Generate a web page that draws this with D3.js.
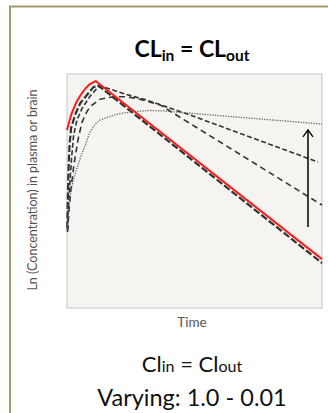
<!DOCTYPE html>
<html>
<head>
<meta charset="utf-8">
<script src="https://cdn.jsdelivr.net/npm/d3@7"></script>
<style>
  body { margin: 0; background: #fff; }
  svg { display: block; font-family: Lato, "Open Sans", sans-serif; }
</style>
</head>
<body>
<svg id="chart" width="328" height="413"></svg>
<script>
// time (arbitrary units 0-100) and ln(concentration) (arbitrary units 0-100)
const redTime = [0, 1.6, 3.5, 5.1, 7.2, 9.0, 11.2, 100];
const redConc = [76.1, 82.5, 87.6, 90.6, 93.8, 95.7, 97.0, 20.9];

const longDashTime = [0.1, 0.3, 0.6, 1.0, 1.6, 3.3, 5.2, 7.8, 10.2, 12.0, 100];
const longDashConc = [34.2, 46.2, 59.0, 69.7, 76.9, 82.9, 87.5, 91.0, 94.2, 95.3, 19.2];

const dashTime = [0.2, 0.6, 1.2, 1.8, 2.6, 3.9, 5.9, 9.1, 12.5, 15.6, 23.4, 31.1, 48.2, 98.4];
const dashConc = [33.3, 44.0, 54.7, 64.1, 73.9, 80.3, 85.3, 90.6, 94.7, 94.0, 91.2, 88.9, 82.5, 62.4];

const wideDashTime = [0.2, 0.8, 1.6, 2.7, 4.3, 5.8, 7.5, 9.0, 12.9, 18.2, 22.7, 27.3, 36.5, 48.2, 100];
const wideDashConc = [32.5, 41.9, 51.3, 61.1, 71.8, 79.1, 83.3, 86.0, 89.2, 90.3, 90.3, 89.6, 86.8, 78.9, 44.0];

const dotTime = [0, 1.3, 2.5, 3.9, 5.5, 7.2, 9.0, 11.1, 12.9, 16.1, 19.9, 25.5, 32.5, 38.4, 44.3, 100];
const dotConc = [34.2, 48.7, 54.7, 59.8, 64.9, 69.7, 75.2, 78.6, 80.3, 81.6, 82.9, 83.9, 84.4, 84.2, 83.6, 78.6];

// arrow showing direction of decreasing clearance
const arrowTime = [94.5, 94.5];
const arrowConc = [34.6, 76.1];

const series = [
  { name: "1.0", time: longDashTime, conc: longDashConc, color: "#333", width: 2.2, dash: "7,2.5" },
  { name: "0.3", time: wideDashTime, conc: wideDashConc, color: "#333", width: 1.6, dash: "6,4" },
  { name: "0.1", time: dashTime, conc: dashConc, color: "#333", width: 1.6, dash: "5,2.5" },
  { name: "0.01", time: dotTime, conc: dotConc, color: "#666", width: 1.3, dash: "1.3,1.3" },
  { name: "plasma", time: redTime, conc: redConc, color: "#ff1a1a", width: 2, dash: null },
];

class ClearanceChart {
  constructor(selector) {
    this.svg = d3.select(selector);
    this.x = d3.scaleLinear().domain([0, 100]).range([67, 322]);
    this.y = d3.scaleLinear().domain([0, 100]).range([308, 74]);
  }

  render() {
    this.drawFrame();
    this.drawPlotArea();
    this.drawCurves();
    this.drawArrow();
    this.drawLabels();
  }

  drawFrame() {
    this.svg
      .append("rect")
      .attr("x", 10)
      .attr("y", 6.5)
      .attr("width", 400)
      .attr("height", 500)
      .attr("fill", "none")
      .attr("stroke", "#a19c70")
      .attr("stroke-width", 2);
  }

  drawPlotArea() {
    const [x0, x1] = this.x.range();
    const [y0, y1] = this.y.range();
    this.svg
      .append("rect")
      .attr("x", x0)
      .attr("y", y1)
      .attr("width", x1 - x0)
      .attr("height", y0 - y1)
      .attr("fill", "#f5f4f0")
      .attr("stroke", "#cfcfcf")
      .attr("stroke-width", 1.2);
  }

  drawCurves() {
    const line = d3
      .line()
      .x((d) => this.x(d[0]))
      .y((d) => this.y(d[1]));

    this.svg
      .append("g")
      .attr("class", "curves")
      .selectAll("path")
      .data(series)
      .join("path")
      .attr("d", (s) => line(d3.zip(s.time, s.conc)))
      .attr("fill", "none")
      .attr("stroke", (s) => s.color)
      .attr("stroke-width", (s) => s.width)
      .attr("stroke-dasharray", (s) => s.dash)
      .attr("stroke-linejoin", "round");
  }

  drawArrow() {
    const ax = this.x(arrowTime[0]);
    const yBottom = this.y(arrowConc[0]);
    const yTop = this.y(arrowConc[1]);
    const g = this.svg.append("g").attr("stroke", "#000").attr("fill", "none");
    g.append("line")
      .attr("x1", ax)
      .attr("x2", this.x(arrowTime[1]))
      .attr("y1", yBottom)
      .attr("y2", yTop)
      .attr("stroke-width", 1.5);
    g.append("path")
      .attr("d", `M${ax - 5},${yTop + 7}L${ax},${yTop}L${ax + 5},${yTop + 7}`)
      .attr("stroke-width", 1.3);
  }

  drawLabels() {
    const cx = 192;

    const title = this.svg
      .append("text")
      .attr("x", cx)
      .attr("y", 57)
      .attr("text-anchor", "middle")
      .attr("font-size", 23)
      .attr("font-weight", "bold")
      .attr("fill", "#000");
    title.append("tspan").text("CL");
    title.append("tspan").attr("font-size", 15.5).attr("dy", 4).text("in");
    title.append("tspan").attr("dy", -4).text(" = CL");
    title.append("tspan").attr("font-size", 15.5).attr("dy", 4).text("out");

    this.svg
      .append("text")
      .attr("transform", `translate(37,190) rotate(-90)`)
      .attr("text-anchor", "middle")
      .attr("font-size", 12.5)
      .attr("fill", "#555")
      .text("Ln (Concentration) in plasma or brain");

    this.svg
      .append("text")
      .attr("x", cx)
      .attr("y", 327)
      .attr("text-anchor", "middle")
      .attr("font-size", 13.5)
      .attr("fill", "#555")
      .text("Time");

    const sub = this.svg
      .append("text")
      .attr("x", cx)
      .attr("y", 372)
      .attr("text-anchor", "middle")
      .attr("font-size", 22)
      .attr("fill", "#111");
    sub.append("tspan").text("Cl");
    sub.append("tspan").attr("font-size", 16).text("in");
    sub.append("tspan").text(" = Cl");
    sub.append("tspan").attr("font-size", 16).text("out");

    this.svg
      .append("text")
      .attr("x", cx)
      .attr("y", 406)
      .attr("text-anchor", "middle")
      .attr("font-size", 23.5)
      .attr("fill", "#111")
      .text("Varying: 1.0 - 0.01");
  }
}

document.addEventListener("DOMContentLoaded", () => {
  const chart = new ClearanceChart("#chart");
  chart.render();
});
</script>
</body>
</html>
